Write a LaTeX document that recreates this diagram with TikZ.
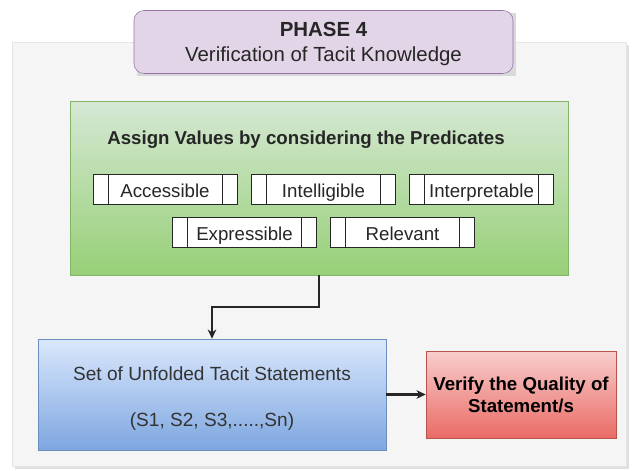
\documentclass[tikz,border=0pt]{standalone}
\usepackage{fontspec}
\setmainfont{Liberation Sans}
\usetikzlibrary{arrows.meta}

\definecolor{phasefill}{HTML}{E1D5E7}
\definecolor{phaseline}{HTML}{9673A6}
\definecolor{greentop}{HTML}{D5E8D4}
\definecolor{greenbot}{HTML}{97D077}
\definecolor{greenline}{HTML}{82B366}
\definecolor{bluetop}{HTML}{DAE8FC}
\definecolor{bluebot}{HTML}{7EA6E0}
\definecolor{blueline}{HTML}{6C8EBF}
\definecolor{redtop}{HTML}{F8CECC}
\definecolor{redbot}{HTML}{EA6B66}
\definecolor{redline}{HTML}{B85450}

\tikzset{
  predbox/.style={draw=black!85, fill=white, minimum width=108pt, minimum height=22.5pt, inner sep=0pt,
    text height=14pt, text depth=2pt,
    path picture={
      \draw[black!85] ([xshift=11.25pt]path picture bounding box.north west) -- ([xshift=11.25pt]path picture bounding box.south west);
      \draw[black!85] ([xshift=-11.25pt]path picture bounding box.north east) -- ([xshift=-11.25pt]path picture bounding box.south east);
    }},
  flowline/.style={draw=black!85, line width=1.2pt, -{Stealth[length=7pt,width=6.5pt]}},
}

\begin{document}
\begin{tikzpicture}[x=0.75pt, y=-0.75pt, font=\fontsize{14}{17}\selectfont, text=black!85]
\useasboundingbox (0,0) rectangle (636,471);
% panel
\fill[black!12] (15,45) rectangle (629,469);
\draw[draw=black!10, fill=black!4] (12,42) rectangle (626,466);
% phase title
\fill[black!15] (137,13) rectangle (516,76);
\node[draw=phaseline, fill=phasefill, rounded corners=7.5pt, minimum width=284.25pt, minimum height=47.25pt] (phase) at (323.5,42) {};
\node[align=center, font=\fontsize{15.3}{19}\selectfont] (phasetext) at (323.5,44)
  {\textbf{PHASE 4}\\Verification of Tacit Knowledge};
% predicates
\node[draw=greenline, top color=greentop, bottom color=greenbot, minimum width=373.5pt, minimum height=130.5pt] (assign) at (319,188) {};
\node[font=\fontsize{14}{17}\selectfont\bfseries] (assigntitle) at (306,140) {Assign Values by considering the Predicates};
\node[predbox] (accessible) at (165,189) {Accessible};
\node[predbox] (intelligible) at (323.5,189) {Intelligible};
\node[predbox] (interpretable) at (481.5,189) {Interpretable};
\node[predbox] (expressible) at (244.5,232) {Expressible};
\node[predbox] (relevant) at (402.5,232) {Relevant};
% statements
\node[draw=blueline, top color=bluetop, bottom color=bluebot, minimum width=261pt, minimum height=83.25pt] (unfolded) at (212,394.5) {};
\node[align=center, font=\fontsize{14.3}{34.5}\selectfont, text=black!80] (unfoldedtext) at (212,398.5)
  {Set of Unfolded Tacit Statements\\(S1, S2, S3,.....,Sn)};
\node[draw=redline, top color=redtop, bottom color=redbot, minimum width=142.5pt, minimum height=65.25pt,
  align=center, font=\fontsize{14}{16.5}\selectfont\bfseries, text=black] (verify) at (521,394.5)
  {Verify the Quality of\\Statement/s};
% connectors
\draw[flowline] (assign.south) -- ++(0,32) -| (unfolded.north);
\draw[flowline, line width=1.8pt] (unfolded.east) -- (verify.west);
\end{tikzpicture}
\end{document}
